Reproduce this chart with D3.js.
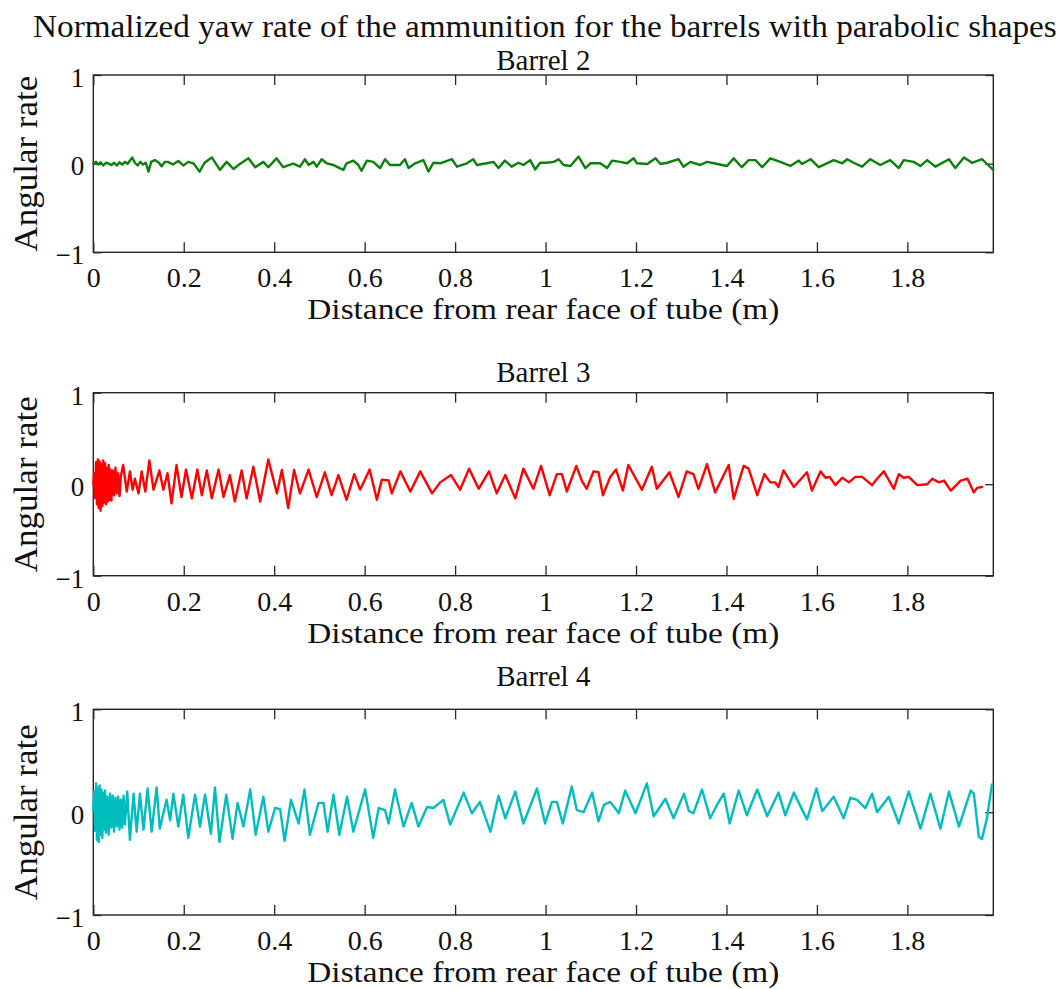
<!DOCTYPE html>
<html>
<head>
<meta charset="utf-8">
<script src="https://cdn.jsdelivr.net/npm/d3@7"></script>
<style>
  html, body { margin: 0; padding: 0; background: #fff; }
  svg { display: block; }
</style>
</head>
<body>
<svg id="chart" width="1062" height="989"></svg>
<script>
// Normalized yaw rate vs. distance travelled inside the tube, one panel per barrel.

const figureTitle = "Normalized yaw rate of the ammunition for the barrels with parabolic shapes";
const panelTitles = ["Barrel 2", "Barrel 3", "Barrel 4"];
const xAxisLabel = "Distance from rear face of tube (m)";
const yAxisLabel = "Angular rate";

const xTickValues = [0, 0.2, 0.4, 0.6, 0.8, 1, 1.2, 1.4, 1.6, 1.8];
const xTickLabels = ["0", "0.2", "0.4", "0.6", "0.8", "1", "1.2", "1.4", "1.6", "1.8"];
const yTickValues = [-1, 0, 1];
const yTickLabels = ["\u22121", "0", "1"];
const xLimits = [0, 1.99];
const yLimits = [-1, 1];

// [distance (m), normalized angular rate]
const barrel2Yaw = [
  [0.000, 0.00], [0.006, 0.02], [0.011, -0.01], [0.016, 0.015], [0.022, -0.02], [0.028, 0.01],
  [0.034, 0.00], [0.040, -0.015], [0.046, 0.01], [0.052, -0.02], [0.058, 0.015], [0.064, -0.01],
  [0.070, 0.02], [0.076, 0.00], [0.082, 0.04], [0.086, 0.07], [0.092, 0.01], [0.098, -0.02],
  [0.104, 0.02], [0.110, -0.01], [0.116, 0.01], [0.122, -0.09], [0.128, 0.02], [0.136, 0.04],
  [0.145, 0.01], [0.151, -0.03], [0.158, 0.02], [0.165, 0.02], [0.176, -0.01], [0.188, 0.03],
  [0.199, -0.02], [0.210, 0.02], [0.222, 0.00], [0.235, -0.09], [0.246, 0.01], [0.262, 0.07],
  [0.280, -0.07], [0.295, 0.02], [0.310, -0.06], [0.325, 0.00], [0.343, 0.06], [0.358, -0.04],
  [0.376, 0.02], [0.387, -0.04], [0.405, 0.06], [0.420, -0.04], [0.442, 0.00], [0.457, -0.034],
  [0.468, 0.05], [0.476, -0.015], [0.487, 0.02], [0.494, -0.034], [0.505, 0.05], [0.516, 0.004],
  [0.531, -0.015], [0.538, -0.034], [0.553, -0.07], [0.560, 0.004], [0.575, 0.034], [0.586, -0.015],
  [0.593, -0.08], [0.605, 0.034], [0.619, 0.02], [0.634, -0.05], [0.645, 0.05], [0.656, -0.015],
  [0.678, -0.015], [0.689, 0.05], [0.697, -0.05], [0.712, 0.004], [0.730, 0.04], [0.741, -0.09],
  [0.752, 0.01], [0.767, 0.004], [0.793, 0.05], [0.804, -0.034], [0.826, 0.004], [0.840, 0.05],
  [0.848, -0.015], [0.870, 0.004], [0.885, 0.02], [0.896, -0.05], [0.910, 0.034], [0.925, -0.034],
  [0.940, 0.01], [0.951, -0.015], [0.966, 0.04], [0.977, -0.065], [0.988, 0.01], [1.003, 0.01],
  [1.018, 0.02], [1.029, 0.05], [1.040, -0.015], [1.055, -0.026], [1.073, 0.08], [1.088, -0.05],
  [1.099, 0.004], [1.121, 0.004], [1.136, -0.05], [1.147, 0.034], [1.165, 0.02], [1.180, 0.004],
  [1.195, 0.06], [1.202, 0.004], [1.225, -0.004], [1.243, 0.06], [1.254, -0.004], [1.269, 0.01],
  [1.294, 0.05], [1.305, -0.034], [1.320, 0.02], [1.342, -0.015], [1.357, 0.02], [1.372, 0.004],
  [1.401, -0.026], [1.416, 0.06], [1.434, -0.04], [1.449, 0.04], [1.464, 0.04], [1.479, -0.04],
  [1.497, 0.06], [1.519, 0.02], [1.541, -0.026], [1.560, 0.034], [1.567, -0.004], [1.586, 0.05],
  [1.604, -0.04], [1.622, 0.004], [1.637, 0.04], [1.656, 0.004], [1.667, 0.05], [1.681, 0.01],
  [1.700, -0.034], [1.718, 0.05], [1.740, -0.015], [1.762, 0.04], [1.781, -0.05], [1.792, 0.04],
  [1.814, 0.02], [1.829, -0.026], [1.844, 0.04], [1.862, -0.034], [1.892, 0.05], [1.906, -0.05],
  [1.925, 0.07], [1.943, 0.01], [1.965, 0.05], [1.976, -0.004], [1.990, -0.07]
];

const barrel3Yaw = [
  [0.000, 0.00], [0.002, 0.12], [0.004, -0.15], [0.006, 0.24], [0.008, -0.22], [0.010, 0.27],
  [0.012, -0.26], [0.014, 0.25], [0.016, -0.29], [0.018, 0.22], [0.020, -0.24], [0.022, 0.26],
  [0.024, -0.20], [0.026, 0.23], [0.028, -0.22], [0.030, 0.18], [0.032, -0.19], [0.034, 0.21],
  [0.036, -0.17], [0.038, 0.16], [0.040, -0.18], [0.043, 0.15], [0.046, -0.12], [0.049, 0.18],
  [0.052, -0.10], [0.055, 0.12], [0.058, -0.13], [0.061, 0.09],
  [0.066, 0.21], [0.074, -0.08], [0.081, 0.14], [0.087, -0.06], [0.092, 0.06], [0.100, -0.10],
  [0.107, 0.14], [0.115, -0.08], [0.124, 0.26], [0.133, -0.06], [0.140, 0.05], [0.146, 0.15],
  [0.155, -0.06], [0.164, 0.12], [0.173, -0.21], [0.184, 0.21], [0.195, -0.14], [0.205, 0.16],
  [0.218, -0.155], [0.230, 0.16], [0.240, -0.12], [0.251, 0.15], [0.262, -0.155], [0.277, 0.16],
  [0.288, -0.14], [0.302, 0.10], [0.313, -0.19], [0.328, 0.15], [0.339, -0.155], [0.354, 0.19],
  [0.369, -0.19], [0.387, 0.27], [0.406, -0.10], [0.417, 0.155], [0.431, -0.26], [0.444, 0.155],
  [0.457, -0.10], [0.476, 0.16], [0.494, -0.14], [0.512, 0.13], [0.527, -0.12], [0.542, 0.10],
  [0.560, -0.17], [0.577, 0.11], [0.590, -0.06], [0.611, 0.16], [0.627, -0.17], [0.638, 0.05],
  [0.653, 0.04], [0.660, -0.10], [0.679, 0.14], [0.701, -0.08], [0.723, 0.14], [0.749, -0.10],
  [0.767, 0.02], [0.791, 0.10], [0.811, -0.06], [0.831, 0.17], [0.852, -0.05], [0.875, 0.14],
  [0.892, -0.10], [0.911, 0.10], [0.933, -0.155], [0.951, 0.17], [0.973, -0.05], [0.990, 0.20],
  [1.009, -0.12], [1.025, 0.11], [1.036, 0.11], [1.047, -0.08], [1.068, 0.20], [1.080, 0.04],
  [1.091, -0.05], [1.106, 0.14], [1.117, 0.13], [1.127, -0.12], [1.143, 0.08], [1.156, 0.16],
  [1.171, -0.07], [1.183, 0.21], [1.213, -0.06], [1.235, 0.19], [1.246, -0.05], [1.274, 0.13],
  [1.294, -0.14], [1.312, 0.14], [1.327, 0.11], [1.338, -0.05], [1.357, 0.22], [1.375, -0.09],
  [1.405, 0.21], [1.416, -0.16], [1.438, 0.20], [1.449, 0.17], [1.468, -0.12], [1.484, 0.11],
  [1.497, 0.02], [1.508, 0.02], [1.515, -0.03], [1.526, 0.15], [1.549, -0.03], [1.578, 0.13],
  [1.589, -0.07], [1.608, 0.14], [1.619, 0.07], [1.628, 0.08], [1.641, -0.01], [1.656, 0.07],
  [1.671, 0.02], [1.685, 0.08], [1.700, 0.08], [1.722, -0.01], [1.733, 0.06], [1.748, 0.14],
  [1.770, -0.05], [1.781, 0.11], [1.792, 0.07], [1.803, 0.08], [1.822, -0.01], [1.844, 0.00],
  [1.855, 0.06], [1.870, 0.02], [1.881, 0.04], [1.896, -0.07], [1.918, 0.04], [1.933, 0.06],
  [1.947, -0.09], [1.954, -0.04], [1.965, -0.03]
];

const barrel4Yaw = [
  [0.000, 0.02], [0.002, 0.20], [0.004, -0.18], [0.006, 0.28], [0.008, -0.27], [0.010, 0.24],
  [0.012, -0.29], [0.014, 0.26], [0.016, -0.22], [0.018, 0.22], [0.020, -0.25], [0.022, 0.19],
  [0.024, -0.17], [0.026, 0.21], [0.028, -0.20], [0.031, 0.15], [0.034, -0.22], [0.037, 0.18],
  [0.040, -0.15], [0.043, 0.16], [0.046, -0.19], [0.049, 0.14], [0.052, -0.14], [0.055, 0.15],
  [0.058, -0.17], [0.061, 0.12], [0.064, -0.15], [0.067, 0.16], [0.070, -0.12],
  [0.075, 0.20], [0.081, -0.27], [0.089, 0.18], [0.096, -0.19], [0.103, 0.18], [0.111, -0.17],
  [0.120, 0.23], [0.129, -0.19], [0.140, 0.24], [0.147, -0.16], [0.162, 0.12], [0.170, -0.08],
  [0.177, 0.18], [0.188, -0.14], [0.199, 0.17], [0.210, -0.25], [0.225, 0.17], [0.236, -0.14],
  [0.247, 0.17], [0.260, -0.21], [0.269, 0.24], [0.279, -0.29], [0.294, 0.17], [0.308, -0.26],
  [0.319, 0.09], [0.332, -0.14], [0.347, 0.22], [0.359, -0.22], [0.376, 0.15], [0.387, -0.19],
  [0.402, 0.04], [0.413, 0.03], [0.423, -0.28], [0.437, 0.12], [0.454, -0.11], [0.467, 0.22],
  [0.479, -0.22], [0.498, 0.09], [0.509, 0.09], [0.518, -0.19], [0.531, 0.17], [0.544, -0.22],
  [0.561, 0.15], [0.575, -0.19], [0.601, 0.22], [0.619, -0.25], [0.631, 0.04], [0.645, 0.02],
  [0.653, -0.11], [0.667, 0.22], [0.686, -0.14], [0.704, 0.09], [0.719, -0.14], [0.738, 0.05],
  [0.752, 0.04], [0.774, 0.12], [0.789, -0.12], [0.819, 0.19], [0.837, -0.01], [0.855, 0.10],
  [0.878, -0.19], [0.896, 0.16], [0.911, -0.06], [0.933, 0.20], [0.951, -0.11], [0.981, 0.23],
  [0.999, -0.11], [1.014, 0.10], [1.025, 0.10], [1.038, -0.11], [1.058, 0.25], [1.069, 0.02],
  [1.084, 0.00], [1.103, 0.19], [1.117, -0.09], [1.129, 0.07], [1.143, 0.10], [1.162, -0.01],
  [1.176, 0.21], [1.199, -0.01], [1.224, 0.28], [1.239, -0.04], [1.265, 0.13], [1.283, -0.06],
  [1.306, 0.18], [1.317, 0.01], [1.327, -0.01], [1.346, 0.22], [1.364, -0.06], [1.379, 0.07],
  [1.394, 0.18], [1.407, -0.11], [1.427, 0.21], [1.445, -0.03], [1.468, 0.22], [1.490, -0.04],
  [1.515, 0.19], [1.530, -0.03], [1.549, 0.19], [1.560, 0.09], [1.578, -0.07], [1.599, 0.23],
  [1.612, 0.01], [1.637, 0.15], [1.659, -0.06], [1.674, 0.14], [1.689, 0.12], [1.707, 0.04],
  [1.722, 0.18], [1.733, 0.00], [1.759, 0.15], [1.781, -0.11], [1.803, 0.20], [1.829, -0.16],
  [1.851, 0.18], [1.873, -0.16], [1.892, 0.20], [1.914, -0.14], [1.940, 0.21], [1.947, 0.18],
  [1.958, -0.24], [1.965, -0.26], [1.976, -0.06], [1.987, 0.27]
];

const seriesColors = ["#0a800a", "#ff0000", "#00bdbd"];

// ---- layout ----
const FONT = "'Liberation Serif', 'Times New Roman', Times, serif";
const INK = "#111";
const FRAME = "#262626";
const plotLeft = 93.3, plotRight = 993.3;
const panelBoxes = [
  { top: 75, bottom: 252.3, titleY: 70 },
  { top: 392.7, bottom: 575.7, titleY: 382 },
  { top: 709.3, bottom: 915, titleY: 686 }
];

const panels = [barrel2Yaw, barrel3Yaw, barrel4Yaw].map((values, i) => ({
  title: panelTitles[i], values, color: seriesColors[i], box: panelBoxes[i]
}));

const svg = d3.select("#chart");
svg.append("rect").attr("width", 1062).attr("height", 989).attr("fill", "#fff");

const x = d3.scaleLinear().domain(xLimits).range([plotLeft, plotRight]);
const xMid = (plotLeft + plotRight) / 2;

// figure title, squeezed horizontally to span the page
const titleText = svg.append("text")
  .attr("font-family", FONT).attr("font-size", 32).attr("fill", INK)
  .text(figureTitle);
const titleWidth = titleText.node().getComputedTextLength();
titleText.attr("transform", `translate(33,37) scale(${1024 / titleWidth},1)`);

function styleAxis(sel, fontSize) {
  sel.select(".domain").remove();
  sel.attr("font-family", FONT).attr("font-size", fontSize);
  sel.selectAll(".tick line").attr("stroke", FRAME).attr("stroke-width", 1.3);
  sel.selectAll(".tick text").attr("fill", INK);
}

panels.forEach(p => {
  const box = p.box;
  const y = d3.scaleLinear().domain(yLimits).range([box.bottom, box.top]);
  const g = svg.append("g");

  // ticks on all four sides, pointing inward
  const bottom = g.append("g").attr("transform", `translate(0,${box.bottom})`)
    .call(d3.axisBottom(x).tickValues(xTickValues)
      .tickFormat((d, j) => xTickLabels[j]).tickSizeInner(-10).tickSizeOuter(0));
  styleAxis(bottom, 28);
  bottom.selectAll(".tick text").attr("y", 35).attr("dy", null);

  const top = g.append("g").attr("transform", `translate(0,${box.top})`)
    .call(d3.axisTop(x).tickValues(xTickValues).tickFormat("").tickSizeInner(-10).tickSizeOuter(0));
  styleAxis(top, 28);

  const left = g.append("g").attr("transform", `translate(${plotLeft},0)`)
    .call(d3.axisLeft(y).tickValues(yTickValues)
      .tickFormat((d, j) => yTickLabels[j]).tickSizeInner(-8).tickSizeOuter(0));
  styleAxis(left, 27);
  left.selectAll(".tick text").attr("x", -9).attr("dy", "0.42em");

  const right = g.append("g").attr("transform", `translate(${plotRight},0)`)
    .call(d3.axisRight(y).tickValues(yTickValues).tickFormat("").tickSizeInner(-8).tickSizeOuter(0));
  styleAxis(right, 27);

  // axes box
  g.append("rect")
    .attr("x", plotLeft).attr("y", box.top)
    .attr("width", plotRight - plotLeft).attr("height", box.bottom - box.top)
    .attr("fill", "none").attr("stroke", FRAME).attr("stroke-width", 1.4);

  // data trace
  const line = d3.line().x(d => x(d[0])).y(d => y(d[1]));
  g.append("path")
    .datum(p.values)
    .attr("d", line)
    .attr("fill", "none")
    .attr("stroke", p.color)
    .attr("stroke-width", 2.4)
    .attr("stroke-linejoin", "round")
    .attr("stroke-linecap", "round");

  // panel title
  g.append("text")
    .attr("x", xMid).attr("y", box.titleY)
    .attr("text-anchor", "middle")
    .attr("font-family", FONT).attr("font-size", 29).attr("fill", INK)
    .text(p.title);

  // axis labels
  g.append("text")
    .attr("x", xMid).attr("y", box.bottom + 67)
    .attr("text-anchor", "middle")
    .attr("font-family", FONT).attr("font-size", 29).attr("fill", INK)
    .attr("textLength", 472).attr("lengthAdjust", "spacingAndGlyphs")
    .text(xAxisLabel);

  g.append("text")
    .attr("transform", `translate(37,${(box.top + box.bottom) / 2}) rotate(-90)`)
    .attr("text-anchor", "middle")
    .attr("font-family", FONT).attr("font-size", 33).attr("fill", INK)
    .attr("textLength", 176).attr("lengthAdjust", "spacingAndGlyphs")
    .text(yAxisLabel);
});
</script>
</body>
</html>
